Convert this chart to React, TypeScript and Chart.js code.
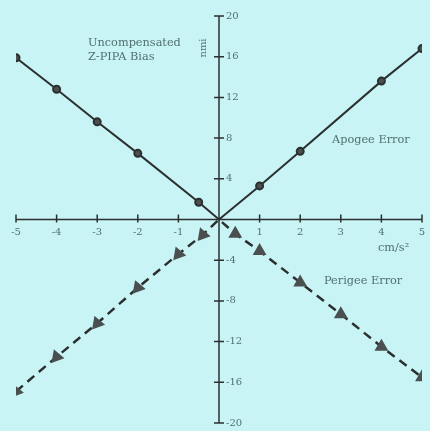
import React, { useEffect, useRef } from "react";
import { Chart, registerables } from "chart.js";

Chart.register(...registerables);

const apogeeX = [-5, -4, -3, -2, -0.5, 0, 1, 2, 4, 5];
const apogeeY = [15.9, 12.8, 9.6, 6.5, 1.7, 0, 3.3, 6.7, 13.6, 16.8];
const perigeeX = [-5, -4, -3, -2, -1, -0.4, 0, 0.4, 1, 2, 3, 4, 5];
const perigeeY = [-16.9, -13.5, -10.2, -6.7, -3.4, -1.5, 0, -1.4, -3.1, -6.2, -9.3, -12.5, -15.5];
const xTicks = [-5, -4, -3, -2, -1, 1, 2, 3, 4, 5];
const yTicks = [20, 16, 12, 8, 4, -4, -8, -12, -16, -20];

const BG = "#c8f4f5";
const INK = "#2b2f2f";
const TXT = "#52706f";
const SERIF = "'DejaVu Serif', 'Liberation Serif', serif";

const axesPlugin = {
  id: "centerAxes",
  beforeDatasetsDraw(chart: any) {
    const { ctx, scales } = chart;
    const xs = scales.x;
    const ys = scales.y;
    const x0 = xs.getPixelForValue(0);
    const y0 = ys.getPixelForValue(0);
    ctx.save();
    ctx.strokeStyle = INK;
    ctx.lineWidth = 1.5;
    ctx.beginPath();
    ctx.moveTo(xs.getPixelForValue(-5), y0);
    ctx.lineTo(xs.getPixelForValue(5), y0);
    ctx.moveTo(x0, ys.getPixelForValue(20));
    ctx.lineTo(x0, ys.getPixelForValue(-20));
    for (const t of xTicks) {
      const px = xs.getPixelForValue(t);
      ctx.moveTo(px, y0 - 5);
      ctx.lineTo(px, y0 + 3);
    }
    for (const t of yTicks) {
      const py = ys.getPixelForValue(t);
      ctx.moveTo(x0 - 5, py);
      ctx.lineTo(x0 + 5, py);
    }
    ctx.stroke();
    ctx.fillStyle = TXT;
    ctx.font = `10px ${SERIF}`;
    ctx.textAlign = "center";
    ctx.textBaseline = "middle";
    for (const t of xTicks) {
      ctx.fillText(String(t), xs.getPixelForValue(t), y0 + 13);
    }
    ctx.textAlign = "left";
    for (const t of yTicks) {
      ctx.fillText(String(t), x0 + 7, ys.getPixelForValue(t));
    }
    ctx.font = `11.3px ${SERIF}`;
    ctx.fillText("Uncompensated", 88, 43);
    ctx.fillText("Z-PIPA Bias", 88, 57);
    ctx.fillText("Apogee Error", 332, 140);
    ctx.fillText("Perigee Error", 324, 281);
    ctx.fillText("cm/s²", 378, 248);
    ctx.save();
    ctx.translate(203, 48);
    ctx.rotate(-Math.PI / 2);
    ctx.textAlign = "center";
    ctx.font = `10px ${SERIF}`;
    ctx.fillText("nmi", 0, 0);
    ctx.restore();
    ctx.restore();
  },
};

const bgPlugin = {
  id: "bg",
  beforeDraw(chart: any) {
    const { ctx, width, height } = chart;
    ctx.save();
    ctx.fillStyle = BG;
    ctx.fillRect(0, 0, width, height);
    ctx.restore();
  },
};

export default function App() {
  const ref = useRef<HTMLCanvasElement>(null);
  useEffect(() => {
    document.body.style.margin = "0";
    const apogee = apogeeX.map((x, i) => ({ x, y: apogeeY[i] }));
    const perigee = perigeeX.map((x, i) => ({ x, y: perigeeY[i] }));
    const chart = new Chart(ref.current as HTMLCanvasElement, {
      type: "scatter",
      data: {
        datasets: [
          {
            label: "Apogee Error",
            data: apogee,
            showLine: true,
            borderColor: INK,
            borderWidth: 2,
            backgroundColor: "#4a4f50",
            pointBorderColor: INK,
            pointRadius: apogeeX.map((x) => (x === 0 ? 0 : 3.5)),
            pointStyle: "circle",
          },
          {
            label: "Perigee Error",
            data: perigee,
            showLine: true,
            borderColor: INK,
            borderWidth: 2.5,
            borderDash: [9, 6],
            backgroundColor: "#4a4f50",
            pointBorderColor: "#4a4f50",
            pointRadius: perigeeX.map((x) => (x === 0 ? 0 : 5.5)),
            pointStyle: "triangle",
            pointRotation: perigeeX.map((x) => (x < 0 ? -20 : 0)),
          },
        ],
      },
      options: {
        animation: false,
        responsive: false,
        maintainAspectRatio: false,
        layout: { padding: { left: 16, right: 3, top: 16, bottom: 3 } },
        plugins: { legend: { display: false }, tooltip: { enabled: false } },
        scales: {
          x: { type: "linear", min: -5, max: 5, display: false },
          y: { type: "linear", min: -20, max: 20, display: false },
        },
      },
      plugins: [bgPlugin, axesPlugin],
    });
    return () => chart.destroy();
  }, []);
  return (
    <div style={{ width: 430, height: 431, background: BG }}>
      <canvas ref={ref} width={430} height={431} style={{ display: "block" }} />
    </div>
  );
}
